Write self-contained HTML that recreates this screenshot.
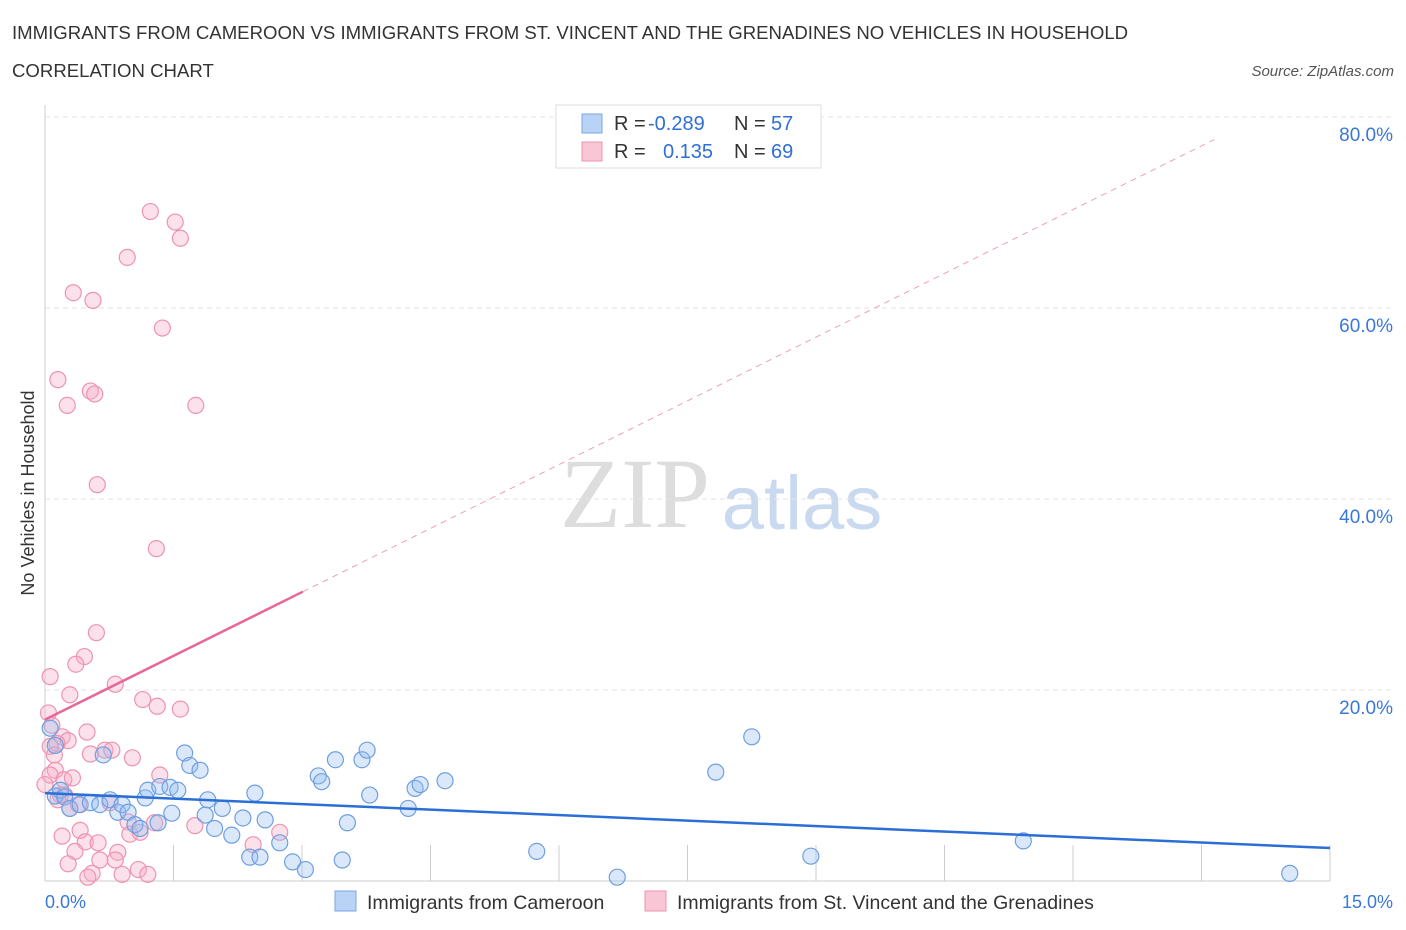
<!DOCTYPE html>
<html><head><meta charset="utf-8"><style>
body{margin:0;background:#fff;font-family:"Liberation Sans",sans-serif;}
svg{display:block}
</style></head><body>
<svg id="chart" width="1406" height="930">
<text x="12" y="39" font-size="18.6" fill="#333">IMMIGRANTS FROM CAMEROON VS IMMIGRANTS FROM ST. VINCENT AND THE GRENADINES NO VEHICLES IN HOUSEHOLD</text>
<text x="12" y="77" font-size="18.6" fill="#333">CORRELATION CHART</text>
<text x="1394" y="76" font-size="15" fill="#555" font-style="italic" text-anchor="end">Source: ZipAtlas.com</text>
<text x="635" y="527" font-size="100" fill="#ddd" font-family="Liberation Serif,serif" text-anchor="middle">ZIP</text>
<text x="802" y="529" font-size="76" fill="#c9d9f0" text-anchor="middle">atlas</text>
<g id="grid"></g>
<g id="marks"></g>
<text x="34" y="493" font-size="18" fill="#333" transform="rotate(-90 34 493)" text-anchor="middle">No Vehicles in Household</text>
<g>
<rect x="556" y="105" width="265" height="63" fill="#fff" stroke="#ddd"/>
<rect x="582" y="114" width="20" height="19" fill="#b9d3f6" stroke="#7aa7e6"/>
<rect x="582" y="142" width="20" height="19" fill="#f9c6d6" stroke="#ee93b0"/>
<text y="130" font-size="20" fill="#333"><tspan x="614">R =</tspan><tspan x="648" fill="#2f6fd6">-0.289</tspan><tspan x="734">N =</tspan><tspan x="771" fill="#2f6fd6">57</tspan></text>
<text y="158" font-size="20" fill="#333"><tspan x="614">R =</tspan><tspan x="663" fill="#2f6fd6">0.135</tspan><tspan x="734">N =</tspan><tspan x="771" fill="#2f6fd6">69</tspan></text>
</g>
<g>
<rect x="335" y="891" width="21" height="20" fill="#b9d3f6" stroke="#7aa7e6"/>
<text x="367" y="909" font-size="19.5" fill="#333">Immigrants from Cameroon</text>
<rect x="645" y="891" width="21" height="20" fill="#f9c6d6" stroke="#ee93b0"/>
<text x="677" y="909" font-size="19.5" fill="#333">Immigrants from St. Vincent and the Grenadines</text>
</g>
</svg>
<script>
const xTickLabels=["0.0%","15.0%"];
const yTicks=[20,40,60,80];
const blueX=[0.12,0.18,0.23,0.29,0.41,0.53,0.64,0.68,0.76,0.85,0.90,0.97,1.05,1.11,1.17,1.20,1.32,1.34,1.46,1.48,1.55,1.63,1.69,1.81,1.87,1.90,1.98,2.07,2.18,2.31,2.39,2.45,2.51,2.57,2.74,2.89,3.04,3.19,3.23,3.39,3.47,3.53,3.70,3.76,3.79,4.24,4.32,4.38,4.67,5.74,6.68,7.83,8.25,8.94,11.42,14.53,0.06,0.12];
const blueY=[8.9,9.5,8.8,7.6,8.0,8.2,8.0,13.2,8.5,7.2,8.0,7.2,5.9,5.5,8.7,9.5,6.1,9.9,9.8,7.1,9.5,13.4,12.1,11.6,6.9,8.5,5.5,7.6,4.8,6.6,2.5,9.2,2.5,6.4,4.0,2.0,1.2,11.0,10.4,12.7,2.2,6.1,12.7,13.7,9.0,7.6,9.7,10.1,10.5,3.1,0.4,11.4,15.1,2.6,4.2,0.8,16.0,14.2];
const pinkX=[1.23,1.52,1.58,0.96,0.33,0.56,1.37,0.15,0.53,0.58,0.26,1.76,0.61,1.30,0.60,0.46,0.36,0.06,0.82,0.29,1.14,1.31,1.58,0.04,0.08,0.49,0.20,0.27,0.14,0.06,0.70,0.53,0.78,1.02,0.12,0.06,0.22,1.34,0.32,0.0,0.23,0.15,0.29,0.76,0.97,1.28,1.75,2.74,0.20,0.41,0.99,0.47,0.62,0.35,0.85,0.64,0.27,2.43,1.09,0.55,0.90,1.20,0.50,0.18,0.39,0.11,1.11,0.82];
const pinkY=[70.1,69.0,67.3,65.3,61.6,60.8,57.9,52.5,51.3,51.0,49.8,49.8,41.5,34.8,26.0,23.5,22.7,21.4,20.6,19.5,19.0,18.3,18.0,17.6,16.3,15.6,15.1,14.7,14.4,14.1,13.7,13.3,13.7,12.9,11.6,11.1,10.6,11.1,10.8,10.1,9.0,8.5,7.6,8.2,6.2,6.1,5.8,5.1,4.7,5.3,4.9,4.1,4.0,3.1,3.0,2.2,1.8,3.8,1.2,0.8,0.7,0.7,0.4,9.0,8.0,13.2,5.1,2.2];
const blueTrend=[9.2,3.45];
const pinkTrend=[16.9,4.45];
const NS="http://www.w3.org/2000/svg";
const X0=45,X1=1330,Y0=881,PY=191/20;
const sx=v=>X0+(v/15)*(X1-X0);
const sy=v=>Y0-v*PY;
function mk(t,a,p){const e=document.createElementNS(NS,t);for(const k in a)e.setAttribute(k,a[k]);p.appendChild(e);return e;}
const grid=document.getElementById('grid'),marks=document.getElementById('marks');
yTicks.forEach(t=>{
 const l=mk('line',{x1:X0,x2:1394,y1:sy(t),y2:sy(t),stroke:'#e3e3e3','stroke-dasharray':'5,4'},grid);
 
 
 const tx=mk('text',{x:1393,y:sy(t)+24,'font-size':19,fill:'#3a78d8','text-anchor':'end'},grid);
 tx.textContent=t.toFixed(1)+'%';
 
 
});
mk('line',{x1:X0,x2:X0,y1:105,y2:Y0,stroke:'#ccc'},grid);
mk('line',{x1:X0,x2:X1,y1:Y0,y2:Y0,stroke:'#ccc'},grid);
for(let i=1;i<=10;i++){const t=mk('line',{x1:sx(i*1.5),x2:sx(i*1.5),y1:845,y2:Y0,stroke:'#ccc'},grid);
 
 }
const xl0=mk('text',{x:45,y:908,'font-size':18,fill:'#3a78d8'},grid);xl0.textContent=xTickLabels[0];


const xl1=mk('text',{x:1393,y:908,'font-size':18,fill:'#3a78d8','text-anchor':'end'},grid);xl1.textContent=xTickLabels[1];


pinkX.forEach((x,i)=>{const c=mk('circle',{cx:sx(x),cy:sy(pinkY[i]),r:8,fill:'rgba(246,170,195,0.35)',stroke:'#ee93b0','stroke-width':1.2},marks);
 
 });
blueX.forEach((x,i)=>{const c=mk('circle',{cx:sx(x),cy:sy(blueY[i]),r:8,fill:'rgba(150,190,240,0.35)',stroke:'#6e9fe0','stroke-width':1.2},marks);
 
 });
const bl=mk('line',{x1:sx(0),y1:sy(blueTrend[0]),x2:sx(15),y2:sy(blueTrend[1]),stroke:'#2b6fd6','stroke-width':2.5},marks);


const pEnd=3.01,pDash=13.65;
const pl=mk('line',{x1:sx(0),y1:sy(pinkTrend[0]),x2:sx(pEnd),y2:sy(pinkTrend[0]+pinkTrend[1]*pEnd),stroke:'#e8679a','stroke-width':2.5},marks);


const pd=mk('line',{x1:sx(pEnd),y1:sy(pinkTrend[0]+pinkTrend[1]*pEnd),x2:sx(pDash),y2:sy(pinkTrend[0]+pinkTrend[1]*pDash),stroke:'#eca0bc','stroke-width':1,'stroke-dasharray':'6,5'},marks);


</script>
</body></html>
